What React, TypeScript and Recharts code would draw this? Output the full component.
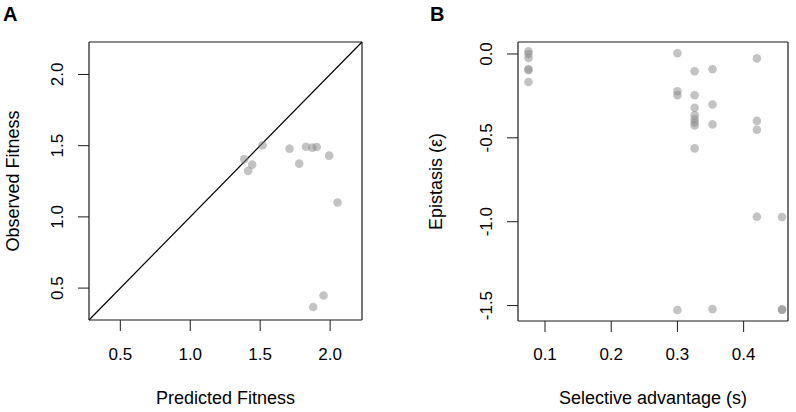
import React from 'react';
import { ScatterChart, Scatter, XAxis, YAxis, ReferenceLine } from 'recharts';

// Panel A data
const predictedFitness = [1.386, 1.414, 1.443, 1.517, 1.71, 1.779, 1.828, 1.873, 1.904, 1.993, 2.053, 1.953, 1.879];
const observedFitness = [1.405, 1.323, 1.367, 1.503, 1.479, 1.374, 1.493, 1.486, 1.491, 1.43, 1.101, 0.448, 0.367];
const ticksA = [0.5, 1.0, 1.5, 2.0];
const domainA: [number, number] = [0.276, 2.228];

// Panel B data
const selectiveAdvantage = [
  0.075, 0.075, 0.075, 0.075, 0.075, 0.075,
  0.3, 0.3, 0.3, 0.3,
  0.326, 0.326, 0.326, 0.326, 0.326, 0.326, 0.326, 0.326,
  0.353, 0.353, 0.353, 0.353,
  0.42, 0.42, 0.42, 0.42,
  0.458, 0.458, 0.458,
];
const epistasis = [
  0.016, 0.0, -0.024, -0.09, -0.097, -0.167,
  0.004, -0.222, -0.246, -1.526,
  -0.103, -0.246, -0.321, -0.365, -0.389, -0.409, -0.426, -0.563,
  -0.091, -0.301, -0.42, -1.521,
  -0.026, -0.399, -0.452, -0.97,
  -0.972, -1.524, -1.524,
];
const ticksBx = [0.1, 0.2, 0.3, 0.4];
const ticksBy = [0.0, -0.5, -1.0, -1.5];
const domainBx: [number, number] = [0.0592, 0.467];
const domainBy: [number, number] = [-1.592, 0.0714];

const dataA = predictedFitness.map((x, i) => ({ x, y: observedFitness[i] }));
const dataB = selectiveAdvantage.map((x, i) => ({ x, y: epistasis[i] }));

const FONT = '"Liberation Sans", Arial, Helvetica, sans-serif';
const TICK_FS = 17;
const TITLE_FS = 18;

const dot = (p: any) => (
  <circle cx={p.cx} cy={p.cy} r={4.3} fill="#888888" fillOpacity={0.5} stroke="none" />
);

// plotBottom: absolute y of plot bottom in chart coords; label baseline = plotBottom + off
const makeXTick = (baseline: number) => (p: any) => (
  <text x={p.x} y={baseline} textAnchor="middle" fontSize={TICK_FS} fontFamily={FONT} fill="#000">
    {Number(p.payload.value).toFixed(1)}
  </text>
);

const makeYTick = (xBase: number) => (p: any) => (
  <text
    x={xBase}
    y={p.y}
    transform={`rotate(-90, ${xBase}, ${p.y})`}
    textAnchor="middle"
    fontSize={TICK_FS}
    fontFamily={FONT}
    fill="#000"
  >
    {Number(p.payload.value).toFixed(1)}
  </text>
);

const xTitle = (text: string, baseline: number) => (props: any) => {
  const vb = props.viewBox;
  return (
    <text x={vb.x + vb.width / 2} y={baseline} textAnchor="middle" fontSize={TITLE_FS} fontFamily={FONT} fill="#000">
      {text}
    </text>
  );
};

const yTitle = (text: string, xBase: number) => (props: any) => {
  const vb = props.viewBox;
  const cy = vb.y + vb.height / 2;
  return (
    <text x={xBase} y={cy} transform={`rotate(-90, ${xBase}, ${cy})`} textAnchor="middle" fontSize={TITLE_FS} fontFamily={FONT} fill="#000">
      {text}
    </text>
  );
};

const AXIS_STROKE = '#1a1a1a';
const axisLine = { stroke: AXIS_STROKE, strokeWidth: 1.2 };

function PanelA() {
  return (
    <ScatterChart width={400} height={412} margin={{ top: 0, left: 0, right: 0, bottom: 0 }}>
      <XAxis
        xAxisId="b"
        dataKey="x"
        type="number"
        domain={domainA}
        ticks={ticksA}
        allowDataOverflow
        height={92}
        tickSize={11}
        tickLine={{ stroke: AXIS_STROKE }}
        axisLine={axisLine}
        tick={makeXTick(360)}
        interval={0}
        label={{ content: xTitle('Predicted Fitness', 404) }}
      />
      <XAxis xAxisId="t" orientation="top" type="number" domain={domainA} allowDataOverflow height={42} tick={false} tickLine={false} axisLine={axisLine} />
      <YAxis
        yAxisId="l"
        dataKey="y"
        type="number"
        domain={domainA}
        ticks={ticksA}
        allowDataOverflow
        width={89}
        tickSize={11}
        tickLine={{ stroke: AXIS_STROKE }}
        axisLine={axisLine}
        tick={makeYTick(63)}
        interval={0}
        label={{ content: yTitle('Observed Fitness', 19) }}
      />
      <YAxis yAxisId="r" orientation="right" type="number" domain={domainA} allowDataOverflow width={38} tick={false} tickLine={false} axisLine={axisLine} />
      <ReferenceLine
        xAxisId="b"
        yAxisId="l"
        segment={[{ x: domainA[0], y: domainA[0] }, { x: domainA[1], y: domainA[1] }]}
        stroke="#000"
        strokeWidth={1.2}
        ifOverflow="visible"
      />
      <Scatter xAxisId="b" yAxisId="l" data={dataA} shape={dot} isAnimationActive={false} />
    </ScatterChart>
  );
}

function PanelB() {
  return (
    <ScatterChart width={396} height={412} margin={{ top: 0, left: 0, right: 0, bottom: 0 }}>
      <XAxis
        xAxisId="b"
        dataKey="x"
        type="number"
        domain={domainBx}
        ticks={ticksBx}
        allowDataOverflow
        height={91}
        tickSize={11}
        tickLine={{ stroke: AXIS_STROKE }}
        axisLine={axisLine}
        tick={makeXTick(360)}
        interval={0}
        label={{ content: xTitle('Selective advantage (s)', 404) }}
      />
      <XAxis xAxisId="t" orientation="top" type="number" domain={domainBx} allowDataOverflow height={42} tick={false} tickLine={false} axisLine={axisLine} />
      <YAxis
        yAxisId="l"
        dataKey="y"
        type="number"
        domain={domainBy}
        ticks={ticksBy}
        allowDataOverflow
        width={118}
        tickSize={11}
        tickLine={{ stroke: AXIS_STROKE }}
        axisLine={axisLine}
        tick={makeYTick(92)}
        interval={0}
        label={{ content: yTitle('Epistasis (ε)', 42) }}
      />
      <YAxis yAxisId="r" orientation="right" type="number" domain={domainBy} allowDataOverflow width={8} tick={false} tickLine={false} axisLine={axisLine} />
      <Scatter xAxisId="b" yAxisId="l" data={dataB} shape={dot} isAnimationActive={false} />
    </ScatterChart>
  );
}

const panelLabel: React.CSSProperties = {
  position: 'absolute',
  fontFamily: FONT,
  fontWeight: 'bold',
  fontSize: 20,
  lineHeight: '20px',
  color: '#000',
};

export default function App() {
  return (
    <div style={{ position: 'absolute', left: 0, top: 0, width: 796, height: 412, background: '#fff', overflow: 'hidden' }}>
      <div style={{ position: 'absolute', left: 0, top: 0 }}>
        <PanelA />
      </div>
      <div style={{ position: 'absolute', left: 400, top: 0 }}>
        <PanelB />
      </div>
      <div style={{ ...panelLabel, left: 3, top: 4 }}>A</div>
      <div style={{ ...panelLabel, left: 430, top: 4 }}>B</div>
    </div>
  );
}
